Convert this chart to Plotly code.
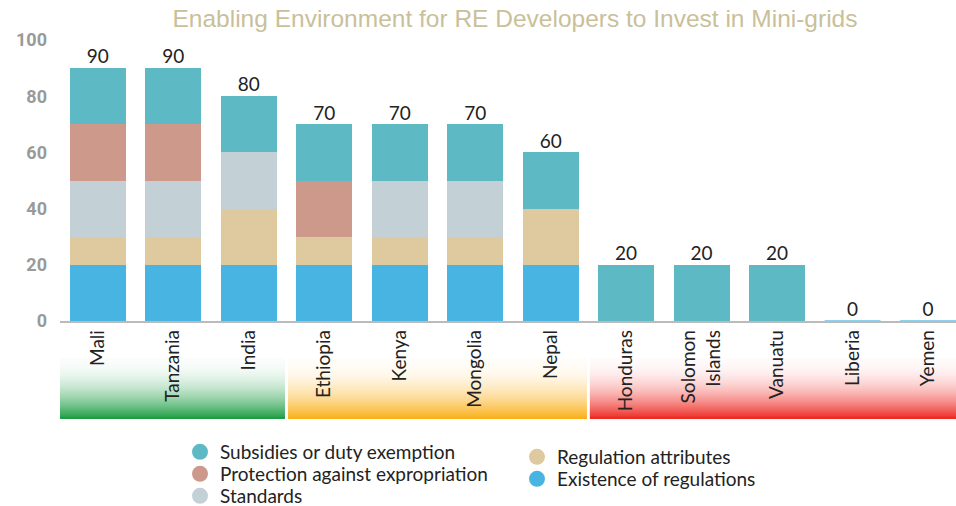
import plotly.graph_objects as go

countries = ["Mali", "Tanzania", "India", "Ethiopia", "Kenya", "Mongolia", "Nepal",
             "Honduras", "Solomon<br>Islands", "Vanuatu", "Liberia", "Yemen"]
existence = [20, 20, 20, 20, 20, 20, 20, 0, 0, 0, 0, 0]
regulation = [10, 10, 20, 10, 10, 10, 20, 0, 0, 0, 0, 0]
standards = [20, 20, 20, 0, 20, 20, 0, 0, 0, 0, 0, 0]
protection = [20, 20, 0, 20, 0, 0, 0, 0, 0, 0, 0, 0]
subsidies = [20, 20, 20, 20, 20, 20, 20, 20, 20, 20, 0, 0]
totals = [a + b + c + d + e for a, b, c, d, e in zip(existence, regulation, standards, protection, subsidies)]
y_ticks = [0, 20, 40, 60, 80, 100]

# group bands: (first index, last index, colour)
groups = [(0, 2, (30, 158, 68)), (3, 6, (251, 176, 26)), (7, 11, (238, 42, 36))]

C_SUB = "#5db9c4"
C_PRO = "#cd998b"
C_STD = "#c3d0d5"
C_REG = "#dfca9f"
C_EXI = "#48b4e1"

FONT = "Lato"
W, H = 956, 506
fig = go.Figure()
series = [("Existence of regulations", existence, C_EXI),
          ("Regulation attributes", regulation, C_REG),
          ("Standards", standards, C_STD),
          ("Protection against expropriation", protection, C_PRO),
          ("Subsidies or duty exemption", subsidies, C_SUB)]
for name, vals, col in series:
    fig.add_trace(go.Bar(x=countries, y=vals, name=name, marker_color=col,
                         marker_line_width=0, showlegend=False, hoverinfo="skip"))

fig.add_trace(go.Scatter(x=countries, y=totals, mode="text", text=[str(t) for t in totals],
                         textposition="top center", showlegend=False, hoverinfo="skip",
                         textfont=dict(family=FONT, size=19, color="#222")))

# legend entries (circles), each placed in its own legend box
legend_items = [("Subsidies or duty exemption", C_SUB, 180, 452),
                ("Protection against expropriation", C_PRO, 180, 474),
                ("Standards", C_STD, 180, 496),
                ("Regulation attributes", C_REG, 517, 457),
                ("Existence of regulations", C_EXI, 517, 479)]
legend_layouts = {}
for k, (name, col, lx, ly) in enumerate(legend_items):
    lid = "legend" if k == 0 else f"legend{k + 1}"
    fig.add_trace(go.Scatter(x=[None], y=[None], mode="markers", name=name,
                             marker=dict(color=col, size=16, symbol="circle"), legend=lid))
    legend_layouts[lid] = dict(xref="container", yref="container",
                               x=lx / W, y=1 - ly / H,
                               xanchor="left", yanchor="middle",
                               font=dict(family=FONT, size=19, color="#222"),
                               bgcolor="rgba(0,0,0,0)")

shapes = []
# gradient bands (opaque strips blended with white, slightly overlapping)
y_top, y_bot = -0.132, -0.345
N = 60
step = (y_bot - y_top) / N
for i0, i1, (r, g, b) in groups:
    x0 = i0 - 0.5 + (0.02 if i0 > 0 else 0.0)
    x1 = i1 + 0.5 - (0.02 if i1 < len(countries) - 1 else 0.0)
    for k in range(N):
        t = (k + 1) / N
        op = min(1.0, 0.02 + 0.95 * t ** 2.0)
        cr = round(255 * (1 - op) + r * op)
        cg = round(255 * (1 - op) + g * op)
        cb = round(255 * (1 - op) + b * op)
        ya = y_top + step * k
        yb = y_top + step * (k + 1) + (step * 0.8 if k < N - 1 else 0)
        shapes.append(dict(type="rect", xref="x", yref="paper", x0=x0, x1=x1, y0=yb, y1=ya,
                           fillcolor=f"rgb({cr},{cg},{cb})", line_width=0, layer="below"))
    shapes.append(dict(type="line", xref="x", yref="paper", x0=x0, x1=x1, y0=y_bot, y1=y_bot,
                       line=dict(color=f"rgb({r},{g},{b})", width=2)))
# zero-value bars shown as thin baseline strokes
for i, t in enumerate(totals):
    if t == 0:
        shapes.append(dict(type="line", xref="x", yref="y", x0=i - 0.37, x1=i + 0.37, y0=0, y1=0,
                           line=dict(color="#8fd0ec", width=2), layer="above"))

fig.update_layout(
    width=W, height=H,
    margin=dict(l=60, r=0, t=40, b=H - 321, autoexpand=False),
    plot_bgcolor="white", paper_bgcolor="white",
    barmode="stack", bargap=0.26,
    hovermode=False,
    title=dict(text="Enabling Environment for RE Developers to Invest in Mini-grids",
               x=515 / W, xanchor="center", y=1 - 18 / H, yanchor="middle",
               font=dict(family="Liberation Sans, Arial", size=24.5, color="#c9c09a")),
    xaxis=dict(range=[-0.5, 11.37], showline=True, linecolor="#bbbbbb", linewidth=1.5,
               ticks="", tickangle=-90, showgrid=False, zeroline=False, automargin=False,
               tickfont=dict(family=FONT, size=19, color="#222")),
    yaxis=dict(range=[0, 100], tickvals=y_ticks, showgrid=False, zeroline=False,
               showline=False, ticks="", ticklabelstandoff=12, automargin=False,
               tickfont=dict(family="Roboto", size=18, color="#9a9a9a", weight="bold")),
    shapes=shapes,
    **legend_layouts,
)

fig.write_html("out.html", config={"displayModeBar": False, "staticPlot": True},
               post_script="document.body.style.margin='0';document.body.style.overflow='hidden';")
